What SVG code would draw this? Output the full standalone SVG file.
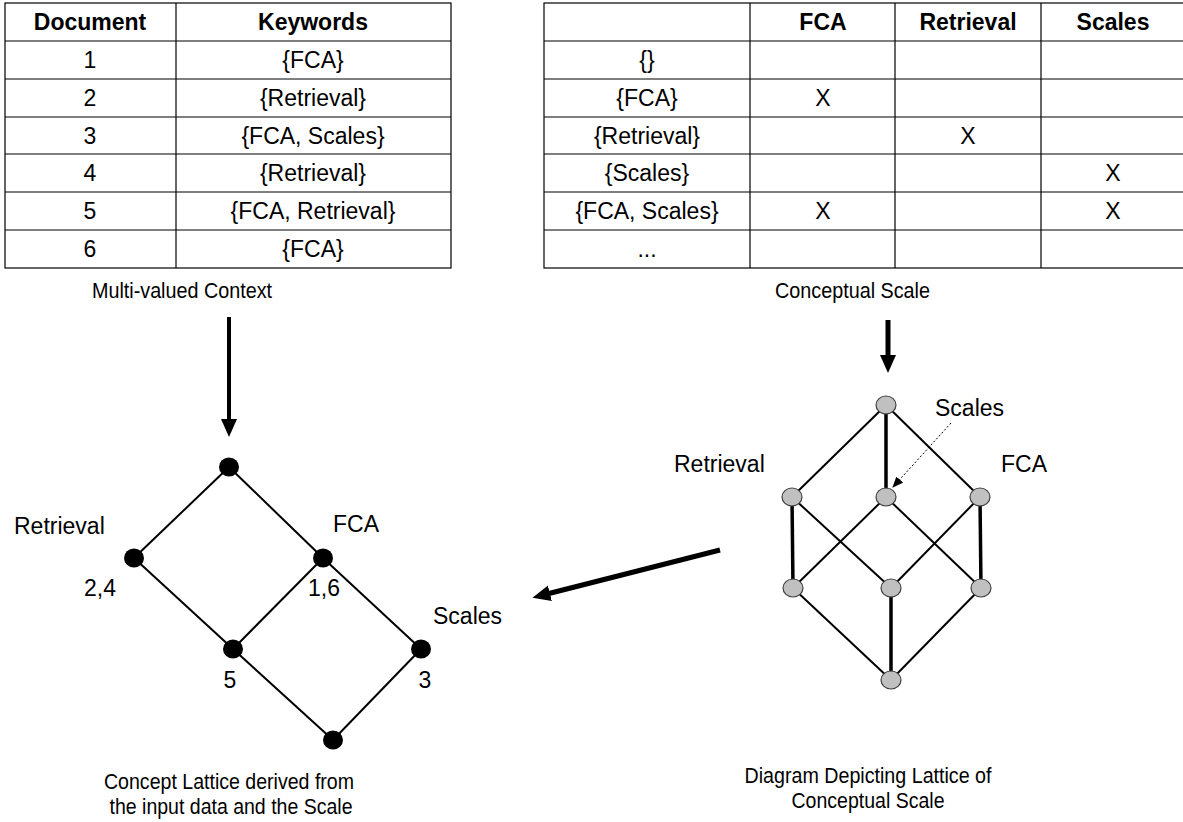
<svg xmlns="http://www.w3.org/2000/svg" width="1183" height="822" viewBox="0 0 1183 822">
<style>
  .cell { fill: #fff; stroke: #000; stroke-width: 1.2; }
  .t { font-family: "Liberation Sans", Arial, sans-serif; font-size: 23px; fill: #000; text-anchor: middle; }
  .th { font-family: "Liberation Sans", Arial, sans-serif; font-size: 23px; font-weight: bold; fill: #000; text-anchor: middle; }
  .lbl { font-family: "Liberation Sans", Arial, sans-serif; font-size: 23px; fill: #000; }
  .cap { font-family: "Liberation Sans Narrow", "Liberation Sans", Arial, sans-serif; font-size: 22.5px; fill: #000; }
  .edge { stroke: #000; stroke-width: 2; fill: none; }
  .thick { stroke: #000; stroke-width: 3.5; fill: none; }
  .bnode { fill: #000; }
  .gnode { fill: #c0c0c0; stroke: #404040; stroke-width: 1.2; }
  .arrow { stroke: #000; fill: none; }
</style>
<defs>
  <marker id="head" markerUnits="userSpaceOnUse" markerWidth="20" markerHeight="18" refX="3" refY="8" orient="auto">
    <path d="M0,0 L18,8 L0,16 z" fill="#000"/>
  </marker>
  <marker id="headS" markerUnits="userSpaceOnUse" markerWidth="12" markerHeight="10" refX="10" refY="4.5" orient="auto">
    <path d="M0,0 L11,4.5 L0,9 z" fill="#000"/>
  </marker>
</defs>

<g id="table-context">
  <rect class="cell" x="5" y="3" width="446" height="265"/>
  <line class="cell" x1="176" y1="3" x2="176" y2="268"/>
  <line class="cell" x1="5" y1="41" x2="451" y2="41"/>
  <line class="cell" x1="5" y1="79" x2="451" y2="79"/>
  <line class="cell" x1="5" y1="117" x2="451" y2="117"/>
  <line class="cell" x1="5" y1="154" x2="451" y2="154"/>
  <line class="cell" x1="5" y1="192" x2="451" y2="192"/>
  <line class="cell" x1="5" y1="230" x2="451" y2="230"/>
  <text class="th" x="90" y="30">Document</text>
  <text class="th" x="313" y="30">Keywords</text>
  <text class="t" x="90" y="68">1</text><text class="t" x="313" y="68">{FCA}</text>
  <text class="t" x="90" y="106">2</text><text class="t" x="313" y="106">{Retrieval}</text>
  <text class="t" x="90" y="144">3</text><text class="t" x="313" y="144">{FCA, Scales}</text>
  <text class="t" x="90" y="181">4</text><text class="t" x="313" y="181">{Retrieval}</text>
  <text class="t" x="90" y="219">5</text><text class="t" x="313" y="219">{FCA, Retrieval}</text>
  <text class="t" x="90" y="257">6</text><text class="t" x="313" y="257">{FCA}</text>
  <text class="cap" x="92" y="298" textLength="180" lengthAdjust="spacingAndGlyphs">Multi-valued Context</text>
</g>

<g id="table-scale">
  <rect class="cell" x="544" y="3" width="645" height="265"/>
  <line class="cell" x1="750" y1="3" x2="750" y2="268"/>
  <line class="cell" x1="895" y1="3" x2="895" y2="268"/>
  <line class="cell" x1="1041" y1="3" x2="1041" y2="268"/>
  <line class="cell" x1="544" y1="41" x2="1189" y2="41"/>
  <line class="cell" x1="544" y1="79" x2="1189" y2="79"/>
  <line class="cell" x1="544" y1="117" x2="1189" y2="117"/>
  <line class="cell" x1="544" y1="154" x2="1189" y2="154"/>
  <line class="cell" x1="544" y1="192" x2="1189" y2="192"/>
  <line class="cell" x1="544" y1="230" x2="1189" y2="230"/>
  <text class="th" x="823" y="30">FCA</text>
  <text class="th" x="968" y="30">Retrieval</text>
  <text class="th" x="1113" y="30">Scales</text>
  <text class="t" x="647" y="68">{}</text>
  <text class="t" x="647" y="106">{FCA}</text><text class="t" x="823" y="106">X</text>
  <text class="t" x="647" y="144">{Retrieval}</text><text class="t" x="968" y="144">X</text>
  <text class="t" x="647" y="181">{Scales}</text><text class="t" x="1113" y="181">X</text>
  <text class="t" x="647" y="219">{FCA, Scales}</text><text class="t" x="823" y="219">X</text><text class="t" x="1113" y="219">X</text>
  <text class="t" x="647" y="257">...</text>
  <text class="cap" x="775" y="298" textLength="155" lengthAdjust="spacingAndGlyphs">Conceptual Scale</text>
</g>

<g id="connectors">
  <line class="arrow" x1="229" y1="317" x2="229" y2="422" stroke-width="4" marker-end="url(#head)"/>
  <line class="arrow" x1="888" y1="320" x2="888" y2="358" stroke-width="5" marker-end="url(#head)"/>
  <line class="arrow" x1="720" y1="550" x2="547" y2="594" stroke-width="5" marker-end="url(#head)"/>
  <line class="arrow" x1="951" y1="423" x2="893" y2="487" stroke-width="1" stroke-dasharray="2,2" marker-end="url(#headS)"/>
</g>

<g id="lattice-left-edges">
  <line class="edge" x1="229" y1="467" x2="134" y2="558"/>
  <line class="edge" x1="229" y1="467" x2="323" y2="558"/>
  <line class="edge" x1="134" y1="558" x2="233" y2="649"/>
  <line class="edge" x1="323" y1="558" x2="233" y2="649"/>
  <line class="edge" x1="323" y1="558" x2="421" y2="649"/>
  <line class="edge" x1="233" y1="649" x2="333" y2="740"/>
  <line class="edge" x1="421" y1="649" x2="333" y2="740"/>
</g>
<g id="lnode-top"><ellipse class="bnode" cx="229" cy="467" rx="10" ry="9.5"/></g>
<g id="lnode-retrieval"><ellipse class="bnode" cx="134" cy="558" rx="10" ry="9.5"/><text class="lbl" x="14" y="534">Retrieval</text><text class="lbl" x="84" y="596">2,4</text></g>
<g id="lnode-fca"><ellipse class="bnode" cx="323" cy="558" rx="10" ry="9.5"/><text class="lbl" x="333" y="532">FCA</text><text class="lbl" x="308" y="596">1,6</text></g>
<g id="lnode-5"><ellipse class="bnode" cx="233" cy="649" rx="10" ry="9.5"/><text class="lbl" x="230" y="688" text-anchor="middle">5</text></g>
<g id="lnode-scales"><ellipse class="bnode" cx="421" cy="649" rx="10" ry="9.5"/><text class="lbl" x="433" y="624">Scales</text><text class="lbl" x="425" y="688" text-anchor="middle">3</text></g>
<g id="lnode-bottom"><ellipse class="bnode" cx="333" cy="740" rx="10" ry="9.5"/></g>
<g id="caption-left">
  <text class="cap" x="229" y="789" text-anchor="middle" textLength="250" lengthAdjust="spacingAndGlyphs">Concept Lattice derived from</text>
  <text class="cap" x="231" y="814" text-anchor="middle" textLength="243" lengthAdjust="spacingAndGlyphs">the input data and the Scale</text>
</g>

<g id="lattice-right-edges">
  <line class="edge" x1="886" y1="405" x2="792" y2="497"/>
  <line class="thick" x1="886" y1="405" x2="886" y2="497"/>
  <line class="edge" x1="886" y1="405" x2="980" y2="497"/>
  <line class="thick" x1="792" y1="497" x2="793" y2="588"/>
  <line class="edge" x1="792" y1="497" x2="891" y2="588"/>
  <line class="edge" x1="886" y1="497" x2="793" y2="588"/>
  <line class="edge" x1="886" y1="497" x2="981" y2="588"/>
  <line class="edge" x1="980" y1="497" x2="891" y2="588"/>
  <line class="thick" x1="980" y1="497" x2="981" y2="588"/>
  <line class="edge" x1="793" y1="588" x2="891" y2="680"/>
  <line class="thick" x1="891" y1="588" x2="891" y2="680"/>
  <line class="edge" x1="981" y1="588" x2="891" y2="680"/>
</g>
<g id="rnode-top"><ellipse class="gnode" cx="886" cy="405" rx="10" ry="9"/></g>
<g id="rnode-retrieval"><ellipse class="gnode" cx="792" cy="497" rx="10" ry="9"/><text class="lbl" x="674" y="472">Retrieval</text></g>
<g id="rnode-scales"><ellipse class="gnode" cx="886" cy="497" rx="10" ry="9"/><text class="lbl" x="935" y="416">Scales</text></g>
<g id="rnode-fca"><ellipse class="gnode" cx="980" cy="497" rx="10" ry="9"/><text class="lbl" x="1001" y="472">FCA</text></g>
<g id="rnode-ll"><ellipse class="gnode" cx="793" cy="588" rx="10" ry="9"/></g>
<g id="rnode-lc"><ellipse class="gnode" cx="891" cy="588" rx="10" ry="9"/></g>
<g id="rnode-lr"><ellipse class="gnode" cx="981" cy="588" rx="10" ry="9"/></g>
<g id="rnode-bottom"><ellipse class="gnode" cx="891" cy="680" rx="10" ry="9"/></g>
<g id="caption-right">
  <text class="cap" x="868" y="783" text-anchor="middle" textLength="247" lengthAdjust="spacingAndGlyphs">Diagram Depicting Lattice of</text>
  <text class="cap" x="868" y="808" text-anchor="middle" textLength="153" lengthAdjust="spacingAndGlyphs">Conceptual Scale</text>
</g>
</svg>
